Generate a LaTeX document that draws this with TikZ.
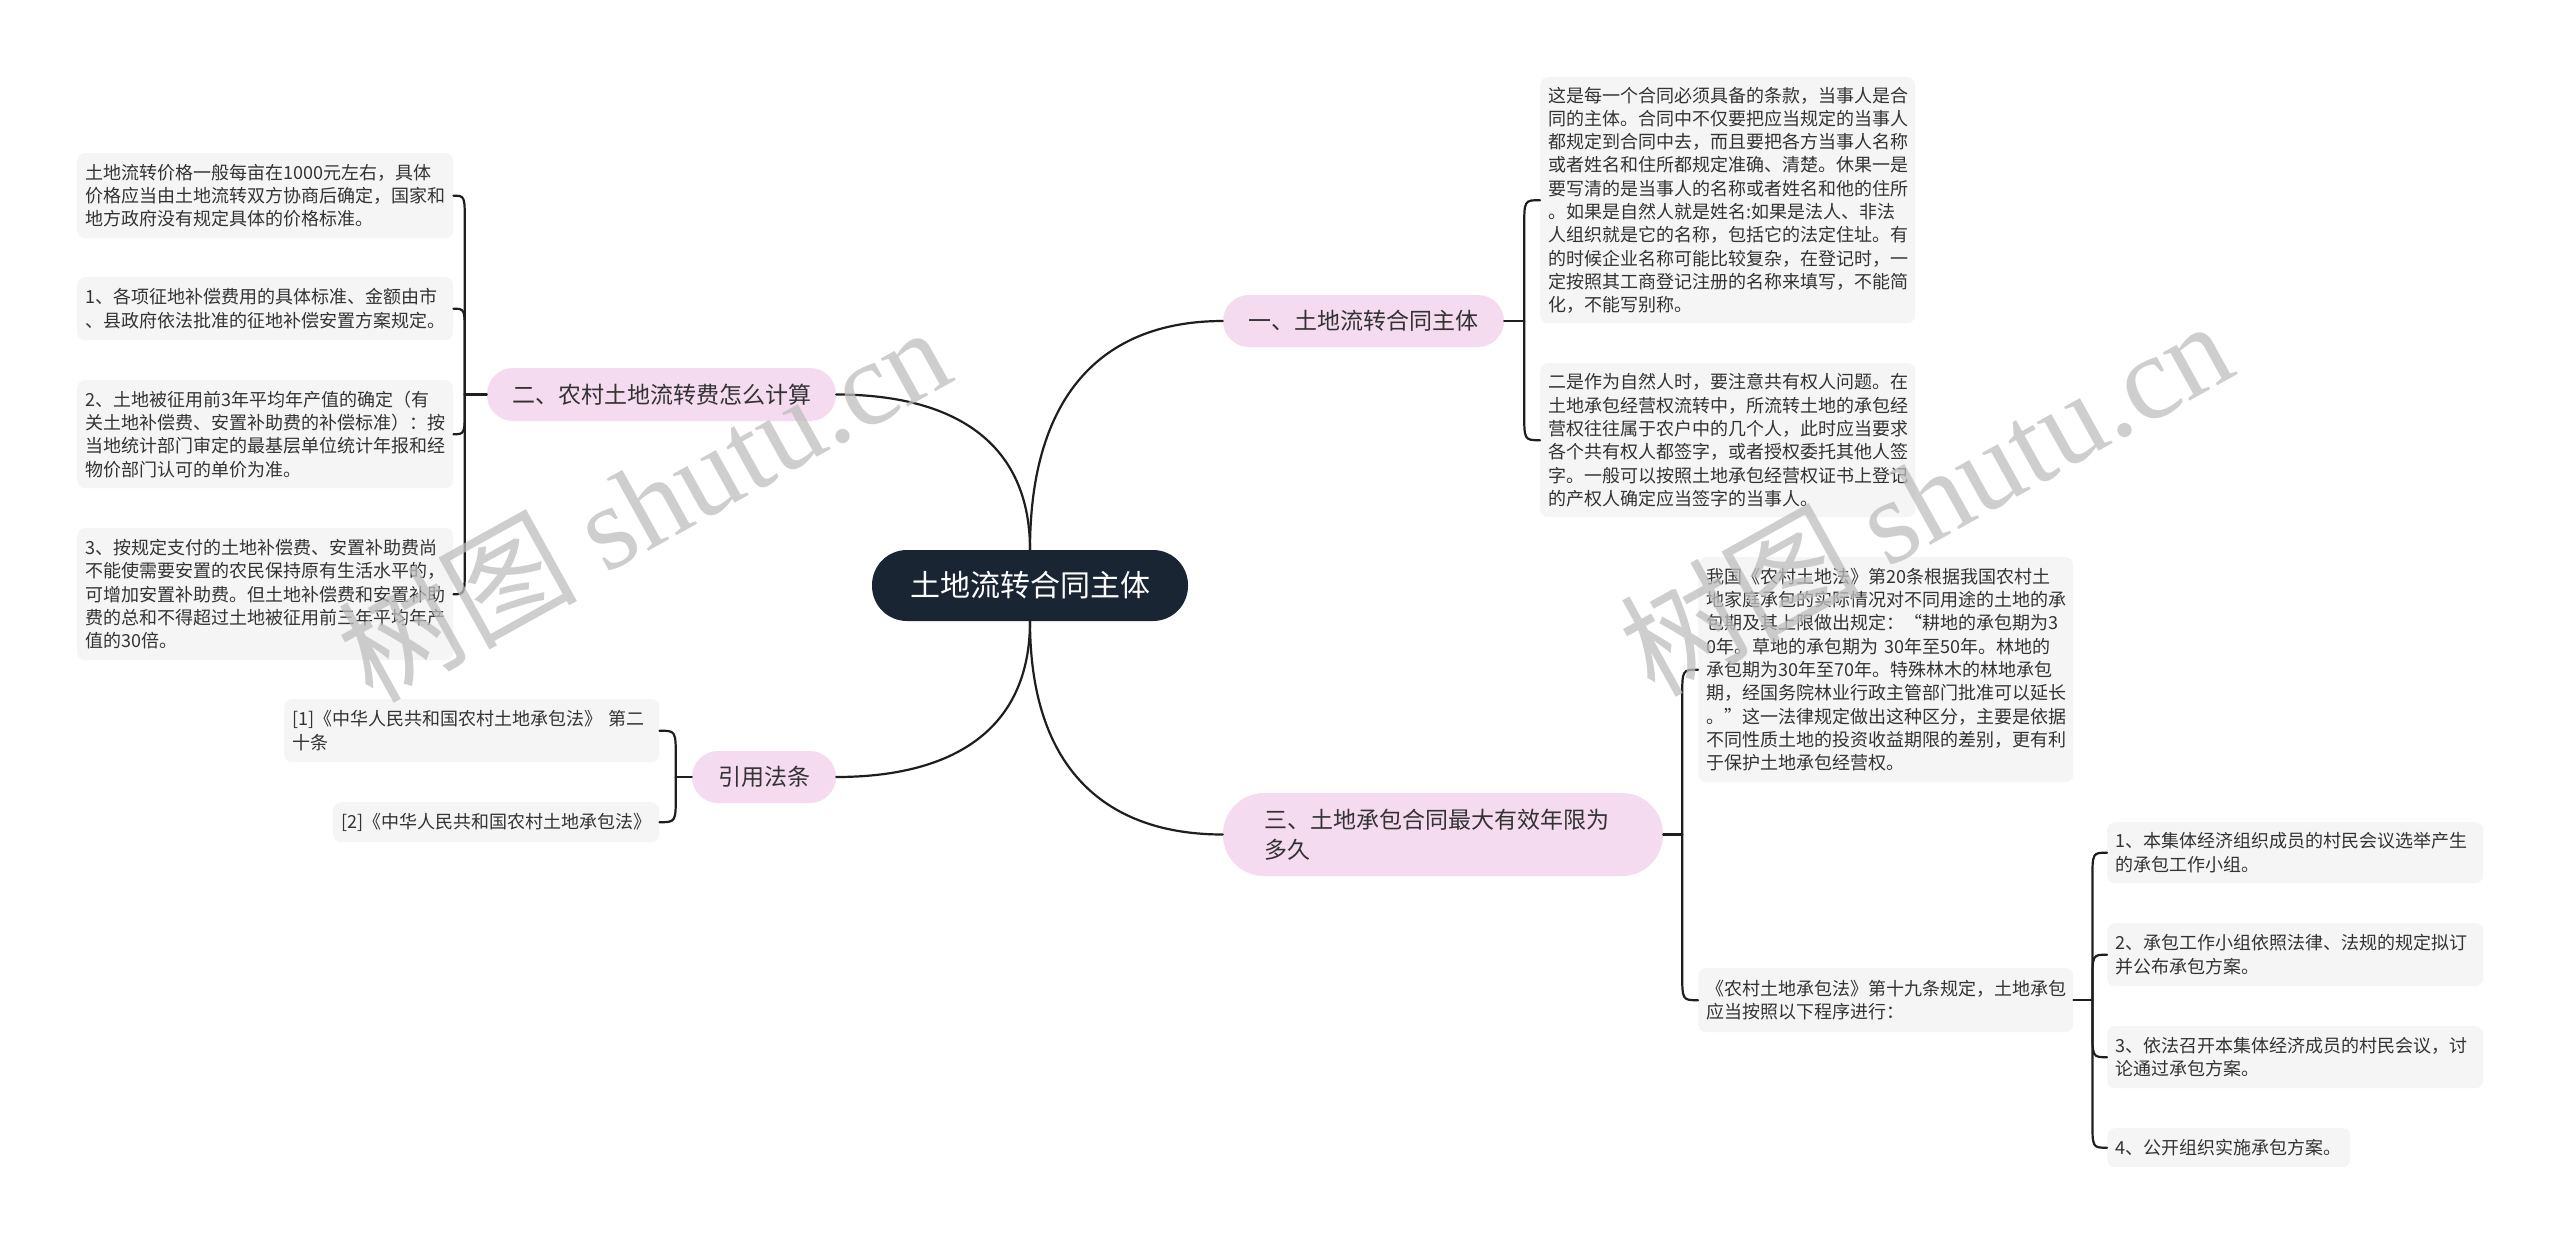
\documentclass[tikz,border=0pt]{standalone}
\usepackage{fontspec}
\setmainfont{Noto Sans CJK SC}
\newfontfamily\wmserif{Liberation Serif}
\usetikzlibrary{calc}
\definecolor{pinkbox}{RGB}{245,219,240}
\definecolor{graybox}{RGB}{245,245,245}
\definecolor{navy}{RGB}{26,37,51}
\definecolor{txt}{RGB}{51,51,51}
\definecolor{linec}{RGB}{30,30,30}
\definecolor{wmc}{RGB}{190,190,190}
\begin{document}
\begin{tikzpicture}[x=1pt,y=-1pt,
  detail/.style={fill=graybox, rounded corners=8pt, anchor=north west, inner xsep=8pt, inner ysep=0pt, align=left, text=txt, font=\fontsize{18}{23.3}\selectfont},
  branch/.style={fill=pinkbox, text=txt, inner sep=0pt, font=\fontsize{23}{30}\selectfont},
  centre/.style={fill=navy, text=white, inner sep=0pt, rounded corners=35pt, font=\fontsize{30}{36}\selectfont, minimum width=316pt, minimum height=71pt},
  conn/.style={draw=linec, line width=2.2pt, line cap=round},
  wm/.style={text=wmc, opacity=0.75, font=\fontsize{120}{120}\selectfont, inner sep=0pt}
]
\fill[white] (0,0) rectangle (2560,1245);
\useasboundingbox (0,0) rectangle (2560,1245);

% centre and branches
\node[centre] (c) at (1030,585.5) {土地流转合同主体};
\node[branch, rounded corners=26pt, minimum width=281pt, minimum height=52pt] (b1) at (1363.5,321) {一、土地流转合同主体};
\node[branch, rounded corners=26pt, minimum width=349pt, minimum height=53pt] (b2) at (661.5,394.5) {二、农村土地流转费怎么计算};
\node[branch, rounded corners=41pt, minimum width=440pt, minimum height=83pt, text width=358pt, inner xsep=41pt, align=left] (b3) at (1443,834.5) {三、土地承包合同最大有效年限为\\多久};
\node[branch, rounded corners=26pt, minimum width=144pt, minimum height=52pt] (b4) at (764,777) {引用法条};

% left details
\node[detail, text width=360pt, minimum width=376pt, minimum height=85pt] (l1) at (77,153) {土地流转价格一般每亩在1000元左右，具体\\价格应当由土地流转双方协商后确定，国家和\\地方政府没有规定具体的价格标准。};
\node[detail, text width=360pt, minimum width=376pt, minimum height=63pt] (l2) at (77,277) {1、各项征地补偿费用的具体标准、金额由市\\、县政府依法批准的征地补偿安置方案规定。};
\node[detail, text width=360pt, minimum width=376pt, minimum height=108pt] (l3) at (77,380) {2、土地被征用前3年平均年产值的确定（有\\关土地补偿费、安置补助费的补偿标准）：按\\当地统计部门审定的最基层单位统计年报和经\\物价部门认可的单价为准。};
\node[detail, text width=360pt, minimum width=376pt, minimum height=132pt] (l4) at (77,528) {3、按规定支付的土地补偿费、安置补助费尚\\不能使需要安置的农民保持原有生活水平的，\\可增加安置补助费。但土地补偿费和安置补助\\费的总和不得超过土地被征用前三年平均年产\\值的30倍。};

\node[detail, text width=359pt, minimum width=375pt, minimum height=63pt] (k1) at (284,699) {[1]《中华人民共和国农村土地承包法》 第二\\十条};
\node[detail, text width=310pt, minimum width=326pt, minimum height=40pt] (k2) at (333,802) {[2]《中华人民共和国农村土地承包法》};

% right details
\node[detail, text width=359pt, minimum width=375pt, minimum height=246pt] (r1) at (1540,77) {这是每一个合同必须具备的条款，当事人是合\\同的主体。合同中不仅要把应当规定的当事人\\都规定到合同中去，而且要把各方当事人名称\\或者姓名和住所都规定准确、清楚。休果一是\\要写清的是当事人的名称或者姓名和他的住所\\。如果是自然人就是姓名:如果是法人、非法\\人组织就是它的名称，包括它的法定住址。有\\的时候企业名称可能比较复杂，在登记时，一\\定按照其工商登记注册的名称来填写，不能简\\化，不能写别称。};
\node[detail, text width=359pt, minimum width=375pt, minimum height=154pt] (r2) at (1540,363) {二是作为自然人时，要注意共有权人问题。在\\土地承包经营权流转中，所流转土地的承包经\\营权往往属于农户中的几个人，此时应当要求\\各个共有权人都签字，或者授权委托其他人签\\字。一般可以按照土地承包经营权证书上登记\\的产权人确定应当签字的当事人。};
\node[detail, text width=359pt, minimum width=375pt, minimum height=225pt] (r3) at (1698,557) {我国《农村土地法》第20条根据我国农村土\\地家庭承包的实际情况对不同用途的土地的承\\包期及其上限做出规定：“耕地的承包期为3\\0年。草地的承包期为 30年至50年。林地的\\承包期为30年至70年。特殊林木的林地承包\\期，经国务院林业行政主管部门批准可以延长\\。”这一法律规定做出这种区分，主要是依据\\不同性质土地的投资收益期限的差别，更有利\\于保护土地承包经营权。};
\node[detail, text width=359pt, minimum width=375pt, minimum height=64pt] (r4) at (1698,968) {《农村土地承包法》第十九条规定，土地承包\\应当按照以下程序进行：};

\node[detail, text width=360pt, minimum width=376pt, minimum height=61pt] (s1) at (2107,822) {1、本集体经济组织成员的村民会议选举产生\\的承包工作小组。};
\node[detail, text width=360pt, minimum width=376pt, minimum height=63pt] (s2) at (2107,923) {2、承包工作小组依照法律、法规的规定拟订\\并公布承包方案。};
\node[detail, text width=360pt, minimum width=376pt, minimum height=62pt] (s3) at (2107,1026) {3、依法召开本集体经济成员的村民会议，讨\\论通过承包方案。};
\node[detail, text width=227pt, minimum width=243pt, minimum height=39pt] (s4) at (2107,1128) {4、公开组织实施承包方案。};

% main connectors
\draw[conn] (c.north) .. controls ($(c.north)!0.7!(c.north |- b1.west)$) and ($(b1.west)!0.6!(b1.west -| c.north)$) .. (b1.west);
\draw[conn] (c.north) .. controls ($(c.north)!0.7!(c.north |- b2.east)$) and ($(b2.east)!0.6!(b2.east -| c.north)$) .. (b2.east);
\draw[conn] (c.south) .. controls ($(c.south)!0.7!(c.south |- b3.west)$) and ($(b3.west)!0.6!(b3.west -| c.south)$) .. (b3.west);
\draw[conn] (c.south) .. controls ($(c.south)!0.7!(c.south |- b4.east)$) and ($(b4.east)!0.6!(b4.east -| c.south)$) .. (b4.east);

% bracket of b1
\coordinate (t1) at ($(b1.east)+(20,0)$);
\draw[conn] (b1.east) -- (t1);
\draw[conn] (t1) -- ($(t1 |- r1.west)+(0,28)$) .. controls (t1 |- r1.west) .. (r1.west);
\draw[conn] (t1) -- ($(t1 |- r2.west)+(0,-28)$) .. controls (t1 |- r2.west) .. (r2.west);

% bracket of b2
\coordinate (t2) at ($(b2.west)+(-22,0)$);
\draw[conn] (b2.west) -- (t2);
\draw[conn] (t2) -- ($(t2 |- l1.east)+(0,28)$) .. controls (t2 |- l1.east) .. (l1.east);
\draw[conn] (t2) -- ($(t2 |- l2.east)+(0,28)$) .. controls (t2 |- l2.east) .. (l2.east);
\draw[conn] (t2) -- ($(t2 |- l3.east)+(0,-28)$) .. controls (t2 |- l3.east) .. (l3.east);
\draw[conn] (t2) -- ($(t2 |- l4.east)+(0,-28)$) .. controls (t2 |- l4.east) .. (l4.east);

% bracket of b4
\coordinate (t4) at ($(b4.west)+(-16,0)$);
\draw[conn] (b4.west) -- (t4);
\draw[conn] (t4) -- ($(t4 |- k1.east)+(0,28)$) .. controls (t4 |- k1.east) .. (k1.east);
\draw[conn] (t4) -- ($(t4 |- k2.east)+(0,-28)$) .. controls (t4 |- k2.east) .. (k2.east);

% bracket of b3
\coordinate (t3) at ($(b3.east)+(19,0)$);
\draw[conn] (b3.east) -- (t3);
\draw[conn] (t3) -- ($(t3 |- r3.west)+(0,28)$) .. controls (t3 |- r3.west) .. (r3.west);
\draw[conn] (t3) -- ($(t3 |- r4.west)+(0,-28)$) .. controls (t3 |- r4.west) .. (r4.west);

% bracket of r4
\coordinate (t5) at ($(r4.east)+(19,0)$);
\draw[conn] (r4.east) -- (t5);
\draw[conn] (t5) -- ($(t5 |- s1.west)+(0,28)$) .. controls (t5 |- s1.west) .. (s1.west);
\draw[conn] (t5) -- ($(t5 |- s2.west)+(0,28)$) .. controls (t5 |- s2.west) .. (s2.west);
\draw[conn] (t5) -- ($(t5 |- s3.west)+(0,-28)$) .. controls (t5 |- s3.west) .. (s3.west);
\draw[conn] (t5) -- ($(t5 |- s4.west)+(0,-28)$) .. controls (t5 |- s4.west) .. (s4.west);

% watermarks
\node[wm, rotate=29] (w1) at (643,502) {树图 {\wmserif shutu.cn}};
\node[wm, rotate=29] (w2) at (1925,496) {树图 {\wmserif shutu.cn}};
\end{tikzpicture}
\end{document}
